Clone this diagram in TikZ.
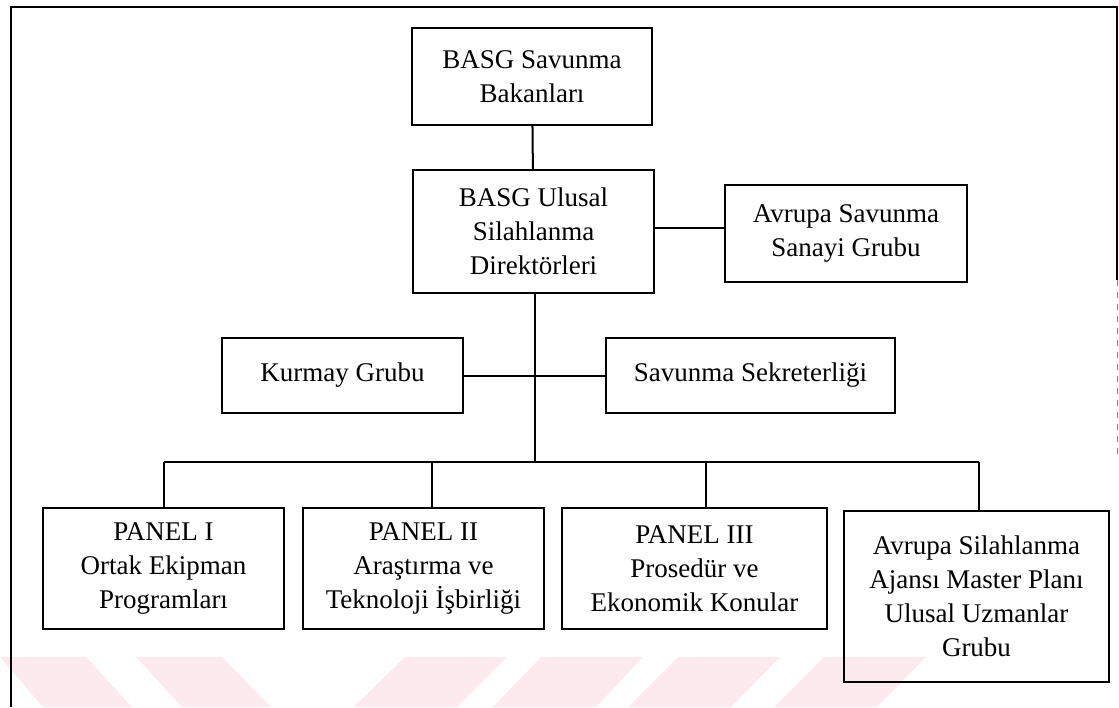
\documentclass[tikz,border=0pt]{standalone}
\usepackage{fontspec}
\setmainfont{Liberation Serif}
\definecolor{filigran}{HTML}{FCEAEE}
\tikzset{kutu/.style={draw, line width=1pt, align=center, inner sep=0pt, font=\fontsize{13.5}{17}\selectfont}}

\begin{document}
\begin{tikzpicture}[x=0.5pt, y=-0.5pt, line width=1pt]
\useasboundingbox (0,0) rectangle (1119,707);

% filigran seritleri
\foreach \a/\b in {0/43, 136/182}
\fill[filigran] (\a,657) -- (\a+86,657) -- (\b+89,707) -- (\b,707) -- cycle;
\foreach \a/\b in {405/354, 541/493, 678/628, 824/774}
\fill[filigran] (\a,657) -- (\a+102,657) -- (\b+103,707) -- (\b,707) -- cycle;

% cerceve
\draw[line width=1.1pt] (11,707) -- (11,7) -- (1117,7) -- (1117,280);
\draw[gray, dashed, line width=0.5pt] (1117,280) -- (1117,460);

\node[kutu, minimum width=120pt, minimum height=48.5pt] (bakan) at (532,76.5) {BASG Savunma\\Bakanları};
\node[kutu, minimum width=120.5pt, minimum height=61.5pt] (direktor) at (533.5,231.5) {BASG Ulusal\\Silahlanma\\Direktörleri};
\node[kutu, minimum width=121pt, minimum height=48.5pt] (sanayi) at (846,233.5) {Avrupa Savunma\\Sanayi Grubu};
\node[kutu, minimum width=120.5pt, minimum height=37.5pt] (kurmay) at (342.5,375.5) {Kurmay Grubu};
\node[kutu, minimum width=144.5pt, minimum height=37.5pt] (sekreter) at (750.5,375.5) {Savunma Sekreterliği};

\node[kutu, minimum width=120.5pt, minimum height=60.5pt] (panel1) at (163.5,568.5) {PANEL I\\Ortak Ekipman\\Programları};
\node[kutu, minimum width=120.5pt, minimum height=60.5pt] (panel2) at (423.5,568.5) {PANEL II\\Araştırma ve\\Teknoloji İşbirliği};
\node[kutu, minimum width=132.5pt, minimum height=60.5pt] (panel3) at (694.5,568.5) {PANEL III\\Prosedür ve\\Ekonomik Konular};
\node[kutu, minimum width=132.5pt, minimum height=85.5pt] (ajans) at (976.5,596.5) {Avrupa Silahlanma\\Ajansı Master Planı\\Ulusal Uzmanlar\\Grubu};

\coordinate (bus) at (535,462);
\coordinate (sbag) at ([yshift=3pt]sanayi.west);

\draw (bakan) -- (direktor);
\draw (direktor.east |- sbag) -- (sbag);
\draw (direktor.south -| bus) -- (bus);
\draw (kurmay.east) -- (sekreter.west);
\draw (panel1.north |- bus) -- ([xshift=1pt]ajans.north |- bus);
\foreach \p/\s in {panel1/0pt, panel2/4.25pt, panel3/5.75pt, ajans/1pt}
\draw ([xshift=\s]\p.north) -- ([xshift=\s]\p.north |- bus);
\end{tikzpicture}
\end{document}
